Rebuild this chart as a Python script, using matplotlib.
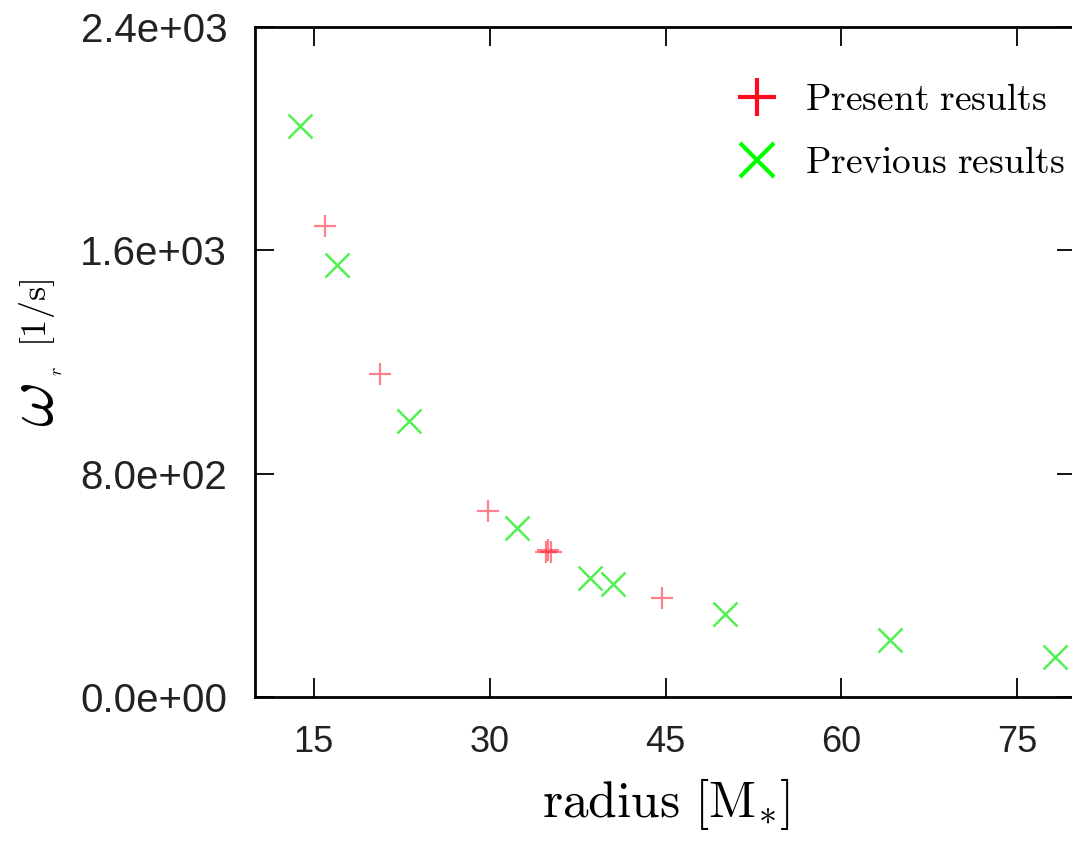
import matplotlib.pyplot as plt
from matplotlib.lines import Line2D
from matplotlib.ticker import FuncFormatter

# data
present_radius = [16.0, 20.7, 29.9, 34.8, 35.0, 35.2, 44.7]
present_omega = [1686, 1158, 665, 518, 525, 520, 356]

previous_radius = [13.8, 17.0, 23.1, 32.3, 38.6, 40.5, 50.1, 64.1, 78.2]
previous_omega = [2046, 1546, 989, 604, 428, 406, 298, 205, 144]

x_ticks = [15, 30, 45, 60, 75]
y_ticks = [0, 800, 1600, 2400]

plt.rcParams['mathtext.fontset'] = 'cm'

W, H = 1072, 844
fig = plt.figure(figsize=(W / 100, H / 100), dpi=100)
ax = fig.add_axes([255 / W, 147 / H, 821 / W, 670 / H])

ax.plot(present_radius, present_omega, linestyle='none', marker='+',
        markersize=16, markeredgewidth=1.6, color='#ff1a2e', alpha=0.55)
ax.plot(previous_radius, previous_omega, linestyle='none', marker='x',
        markersize=17, markeredgewidth=1.8, color='#22ee22', alpha=0.8)

ax.set_xlim(10, 80)
ax.set_ylim(0, 2400)
ax.set_xticks(x_ticks)
ax.set_yticks(y_ticks)
ax.yaxis.set_major_formatter(FuncFormatter(lambda v, p: '%.1e' % v))

ax.tick_params(direction='in', length=14, width=1.3, top=True, right=True)
ax.tick_params(axis='y', pad=20)
ax.tick_params(axis='x', pad=20)
for lab in ax.get_yticklabels():
    lab.set_family(['Liberation Sans', 'DejaVu Sans'])
    lab.set_fontsize(29)
    lab.set_color('#222222')
for lab in ax.get_xticklabels():
    lab.set_family(['Liberation Sans', 'DejaVu Sans'])
    lab.set_fontsize(26)
    lab.set_color('#222222')
for s in ax.spines.values():
    s.set_linewidth(2.0)

ax.set_xlabel(r'$\mathrm{radius\ [M_{*}]}$', fontsize=37, labelpad=12)

# y label: big omega, tiny subscript, medium unit
fig.text(33 / W, 1 - 405 / H, r'$\omega$', fontsize=50, rotation=90,
         ha='center', va='center')
fig.text(57 / W, 1 - 371 / H, r'$r$', fontsize=13, rotation=90,
         ha='center', va='center')
fig.text(37 / W, 1 - 313 / H, r'$\mathrm{[1/s]}$', fontsize=26, rotation=90,
         ha='center', va='center')

handles = [
    Line2D([], [], linestyle='none', marker='+', markersize=28,
           markeredgewidth=3, color='#ff0a1e'),
    Line2D([], [], linestyle='none', marker='x', markersize=24,
           markeredgewidth=3, color='#00ff00'),
]
ax.legend(handles, [r'$\mathrm{Present\ results}$', r'$\mathrm{Previous\ results}$'],
          loc='upper right', bbox_to_anchor=((1065 - 255) / 821, (697 - 82) / 670),
          frameon=False, fontsize=27, handlelength=1.0, handletextpad=0.8,
          labelspacing=0.72, borderpad=0, borderaxespad=0)

fig.savefig('out.png', dpi=100)
